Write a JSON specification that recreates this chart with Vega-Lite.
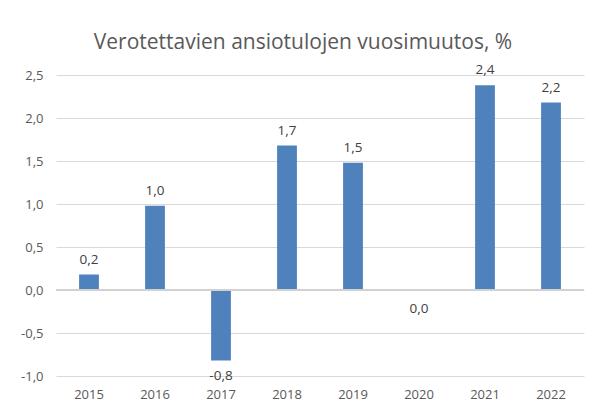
{
  "$schema": "https://vega.github.io/schema/vega-lite/v6.json",
  "width": 528,
  "height": 301,
  "autosize": {"type": "none"},
  "padding": {"left": 56, "top": 75, "right": 11, "bottom": 36},
  "background": "white",
  "config": {
    "locale": {"number": {"decimal": ",", "thousands": " ", "grouping": [3], "currency": ["", " €"], "minus": "-"}},
    "view": {"stroke": null},
    "font": "Open Sans"
  },
  "title": {
    "text": "Verotettavien ansiotulojen vuosimuutos, %",
    "fontSize": 21,
    "fontWeight": "normal",
    "color": "#595959",
    "font": "Open Sans",
    "anchor": "middle",
    "frame": "group",
    "dx": -17,
    "offset": 10
  },
  "data": {
    "values": [
      {"year": "2015", "value": 0.18},
      {"year": "2016", "value": 0.98},
      {"year": "2017", "value": -0.82},
      {"year": "2018", "value": 1.68},
      {"year": "2019", "value": 1.48},
      {"year": "2020", "value": 0.0},
      {"year": "2021", "value": 2.38},
      {"year": "2022", "value": 2.18}
    ]
  },
  "encoding": {
    "x": {
      "field": "year",
      "type": "ordinal",
      "scale": {"paddingInner": 0.7, "paddingOuter": 0.35},
      "axis": {"title": null, "labelAngle": 0, "domain": false, "ticks": false, "labelPadding": 12, "labelFontSize": 13, "labelColor": "#595959", "labelFont": "Open Sans"}
    },
    "y": {
      "field": "value",
      "type": "quantitative",
      "scale": {"domain": [-1, 2.5], "nice": false, "zero": false},
      "axis": {"title": null, "values": [-1, -0.5, 0, 0.5, 1, 1.5, 2, 2.5], "format": ".1f", "domain": false, "ticks": false, "labelPadding": 13, "labelFontSize": 13, "labelColor": "#595959", "labelFont": "Open Sans", "gridColor": "#d9d9d9", "gridWidth": 1}
    }
  },
  "layer": [
    {"mark": {"type": "bar", "color": "#4f81bd"}, "encoding": {"y2": {"datum": 0}}},
    {"mark": {"type": "rule", "color": "#d0d0d0", "strokeWidth": 1.5}, "encoding": {"x": {"value": 0}, "x2": {"value": 528}, "y": {"datum": 0}}},
    {
      "transform": [{"filter": "datum.value > 0"}],
      "mark": {"type": "text", "baseline": "alphabetic", "dy": -11, "fontSize": 13.5, "color": "#404040", "font": "Open Sans"},
      "encoding": {"text": {"field": "value", "type": "quantitative", "format": ".1f"}}
    },
    {
      "transform": [{"filter": "datum.value < 0"}],
      "mark": {"type": "text", "baseline": "top", "dy": 8, "fontSize": 13.5, "color": "#404040", "font": "Open Sans"},
      "encoding": {"text": {"field": "value", "type": "quantitative", "format": ".1f"}}
    },
    {
      "transform": [{"filter": "datum.value == 0"}],
      "mark": {"type": "text", "baseline": "top", "dy": 12, "fontSize": 13.5, "color": "#404040", "font": "Open Sans"},
      "encoding": {"text": {"field": "value", "type": "quantitative", "format": ".1f"}}
    }
  ]
}
